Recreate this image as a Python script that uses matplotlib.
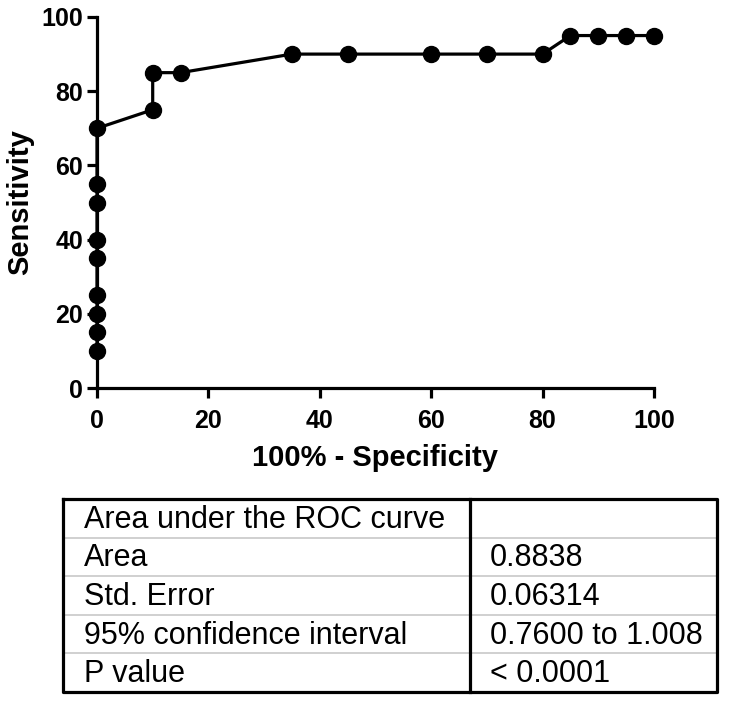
import matplotlib
matplotlib.use("Agg")
import matplotlib.pyplot as plt

plt.rcParams['font.family'] = ['Liberation Sans', 'DejaVu Sans']

fpr = [0, 0, 0, 0, 0, 0, 0, 0, 0, 10, 10, 15, 35, 45, 60, 70, 80, 85, 90, 95, 100]
sens = [10, 15, 20, 25, 35, 40, 50, 55, 70, 75, 85, 85, 90, 90, 90, 90, 90, 95, 95, 95, 95]
xticks = [0, 20, 40, 60, 80, 100]
yticks = [0, 20, 40, 60, 80, 100]

table_labels = ["Area under the ROC curve", "Area", "Std. Error", "95% confidence interval", "P value"]
table_values = ["", "0.8838", "0.06314", "0.7600 to 1.008", "< 0.0001"]

W, H = 729, 704
fig = plt.figure(figsize=(W / 100, H / 100), dpi=100)

ax = fig.add_axes([97 / W, 1 - 388 / H, (654 - 97) / W, (388 - 17) / H])
ax.plot(fpr, sens, color='black', lw=2.3, marker='o', markersize=11.5, clip_on=False, zorder=3)
ax.set_xlim(0, 100)
ax.set_ylim(0, 100)
ax.set_xticks(xticks)
ax.set_yticks(yticks)
for s in ['top', 'right']:
    ax.spines[s].set_visible(False)
for s in ['left', 'bottom']:
    ax.spines[s].set_linewidth(2.3)
ax.tick_params(direction='out', length=7, width=2.3, labelsize=18)
ax.tick_params(axis='x', pad=8)
ax.tick_params(axis='y', pad=3)
for lab in ax.get_xticklabels() + ax.get_yticklabels():
    lab.set_fontweight('bold')
ax.set_xlabel("100% - Specificity", fontsize=21, fontweight='bold', labelpad=8)
ax.set_ylabel("Sensitivity", fontsize=21, fontweight='bold', labelpad=5)

# table
tx0, tx1, ty0, ty1 = 63, 717, 499, 692
tax = fig.add_axes([0, 0, 1, 1])
tax.set_xlim(0, W)
tax.set_ylim(H, 0)
tax.axis('off')
n = len(table_labels)
rh = (ty1 - ty0) / n
for i in range(1, n):
    y = ty0 + i * rh
    tax.plot([tx0, tx1], [y, y], color='#c8c8c8', lw=1.2)
tax.plot([tx0, tx1, tx1, tx0, tx0], [ty0, ty0, ty1, ty1, ty0], color='black', lw=2.3)
tax.plot([470.5, 470.5], [ty0, ty1], color='black', lw=2.3)
for i, (l, v) in enumerate(zip(table_labels, table_values)):
    yb = ty0 + (i + 0.5) * rh + 9.5
    tax.text(84, yb, l, fontsize=22, va='baseline', ha='left')
    tax.text(490, yb, v, fontsize=22, va='baseline', ha='left')

fig.savefig("out.png", dpi=100)
